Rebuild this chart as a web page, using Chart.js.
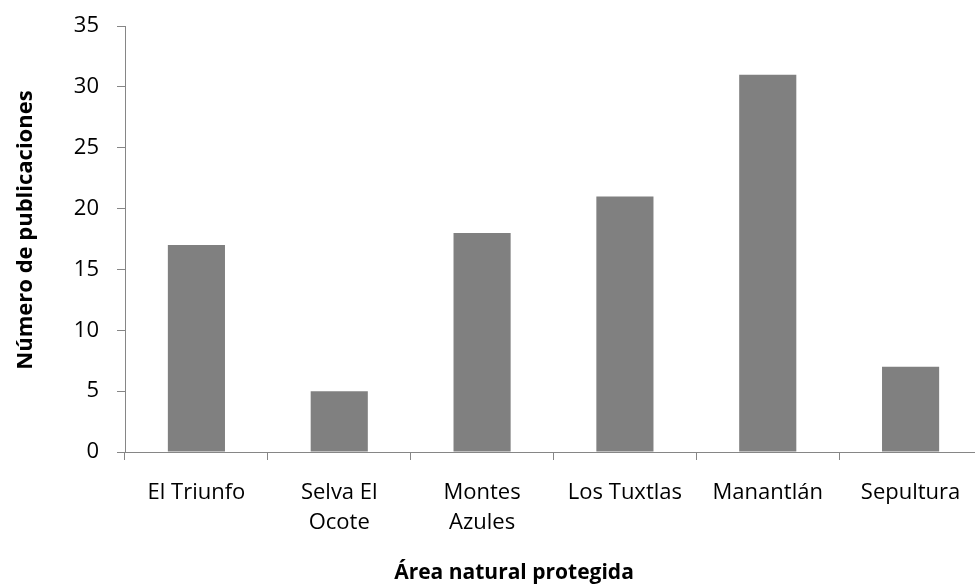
<!DOCTYPE html>
<html>
<head>
<meta charset="utf-8">
<script src="https://cdn.jsdelivr.net/npm/chart.js@4"></script>
<style>
  html, body { margin: 0; padding: 0; background: #fff; overflow: hidden; }
  canvas { display: block; }
</style>
</head>
<body>
<canvas id="grafico" width="990" height="588"></canvas>
<script>
// Datos
const areas = ['El Triunfo', ['Selva El', 'Ocote'], ['Montes', 'Azules'], 'Los Tuxtlas', 'Manantlán', 'Sepultura'];
const publicaciones = [17, 5, 18, 21, 31, 7];
const yMax = 35;
const yPaso = 5;
const tituloX = 'Área natural protegida';
const tituloY = 'Número de publicaciones';

const gris = '#868686';
const fuente = "'Open Sans', 'Noto Sans', sans-serif";

// Títulos de ejes colocados como en el original (centrados sobre el área del gráfico de Excel)
const titulosEjes = {
    id: 'titulosEjes',
    afterDraw(chart) {
        const c = chart.ctx;
        c.save();
        c.fillStyle = '#000';
        c.textAlign = 'center';
        c.textBaseline = 'middle';
        c.font = 'bold 21px ' + fuente;
        c.fillText(tituloX, 514, 573);
        c.translate(26, 230);
        c.rotate(-Math.PI / 2);
        c.font = 'bold 22px ' + fuente;
        c.fillText(tituloY, 0, 0);
        c.restore();
    }
};

const ctx = document.getElementById('grafico').getContext('2d');
new Chart(ctx, {
    type: 'bar',
    data: {
        labels: areas,
        datasets: [{
            data: publicaciones,
            backgroundColor: '#808080',
            borderWidth: 0,
            barPercentage: 0.4,
            categoryPercentage: 1
        }]
    },
    options: {
        responsive: false,
        animation: false,
        layout: { padding: { top: 26, right: 8, left: 0, bottom: 0 } },
        plugins: { legend: { display: false }, tooltip: { enabled: false } },
        scales: {
            x: {
                grid: { display: true, drawOnChartArea: false, drawTicks: true, tickLength: 8, color: gris, offset: true },
                border: { display: true, color: gris, width: 1 },
                ticks: { color: '#000', font: { family: fuente, size: 22, lineHeight: 1.36 }, padding: 18, maxRotation: 0, autoSkip: false },
                afterFit: s => { s.height = 136; }
            },
            y: {
                min: 0, max: yMax,
                grid: { display: true, drawOnChartArea: false, drawTicks: true, tickLength: 8, color: gris },
                border: { display: true, color: gris, width: 1 },
                ticks: { stepSize: yPaso, color: '#000', font: { family: fuente, size: 22 }, padding: 18 },
                afterFit: s => { s.width = 125; s.paddingTop = 0; s.paddingBottom = 0; }
            }
        }
    },
    plugins: [titulosEjes]
});
</script>
</body>
</html>
